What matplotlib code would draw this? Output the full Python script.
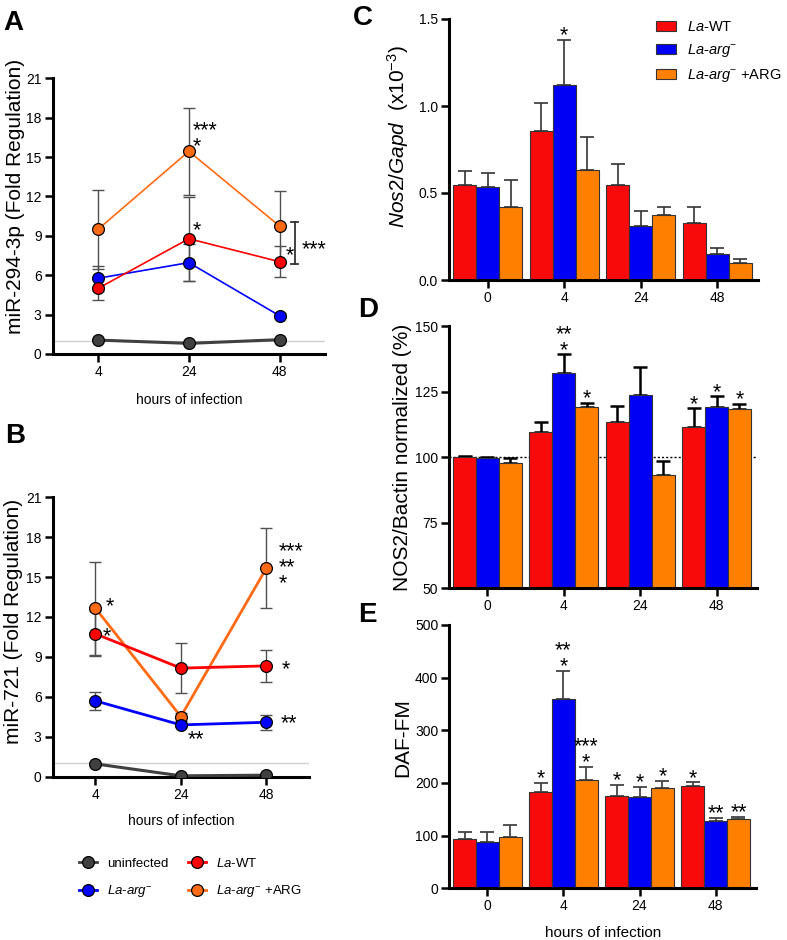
import matplotlib
matplotlib.use("Agg")
import matplotlib.pyplot as plt
from matplotlib.lines import Line2D
from matplotlib.patches import Patch
import numpy as np

plt.rcParams.update({
    'font.family': ['Liberation Sans', 'DejaVu Sans'],
    'mathtext.fontset': 'custom',
    'mathtext.rm': 'Liberation Sans',
    'mathtext.it': 'Liberation Sans:italic',
    'mathtext.bf': 'Liberation Sans:bold',
})

# ---- data: line panels (A, B) ----
hours_lines = ["4", "24", "48"]

A_uninf = [1.06, 0.81, 1.09]
A_wt = [5.0, 8.78, 7.03]
A_wt_err = [0.85, 3.2, 1.2]
A_arg = [5.77, 6.96, 2.91]
A_arg_err = [0.95, 1.4, 0.2]
A_argR = [9.5, 15.44, 9.74]
A_argR_err = [3.0, 3.3, 2.7]

B_uninf = [0.95, 0.05, 0.1]
B_wt = [10.73, 8.15, 8.32]
B_wt_err = [1.7, 1.9, 1.2]
B_arg = [5.69, 3.88, 4.08]
B_arg_err = [0.67, 0.15, 0.55]
B_argR = [12.66, 4.51, 15.66]
B_argR_err = [3.5, 0.3, 3.0]

# ---- data: bar panels (C, D, E) ----
hours_bars = ["0", "4", "24", "48"]

C_wt = [0.548, 0.858, 0.545, 0.329]
C_wt_err = [0.081, 0.162, 0.122, 0.088]
C_arg = [0.535, 1.122, 0.313, 0.149]
C_arg_err = [0.080, 0.258, 0.083, 0.033]
C_argR = [0.418, 0.634, 0.375, 0.099]
C_argR_err = [0.155, 0.190, 0.047, 0.023]
C_stars = [["", "", "", ""], ["", "*", "", ""], ["", "", "", ""]]

D_wt = [100.0, 109.5, 113.5, 111.6]
D_wt_err = [0.5, 4.0, 6.1, 7.0]
D_arg = [99.6, 132.0, 123.7, 119.0]
D_arg_err = [0.6, 7.3, 10.8, 4.3]
D_argR = [97.9, 119.2, 93.2, 118.2]
D_argR_err = [1.9, 1.6, 5.5, 2.1]
D_stars = [["", "", "", "*"], ["", "**\n*", "", "*"], ["", "*", "", "*"]]

E_wt = [93, 183, 176, 194]
E_wt_err = [14.6, 17.7, 20.8, 7.6]
E_arg = [88.6, 360, 173, 128]
E_arg_err = [17.7, 53, 20, 6.4]
E_argR = [98, 205, 190, 132]
E_argR_err = [21.6, 26, 14, 3.7]
E_stars = [["", "*", "*", "*"], ["", "**\n*", "*", "**"], ["", "***\n*", "*", "**"]]

col_gray = '#404040'
col_red = '#FF0000'
col_blue = '#0000FF'
col_orange_line = '#FF6A13'
bar_red = '#F90A0A'
bar_blue = '#0000F5'
bar_orange = '#FF8000'

STAR_FS = 15.5

fig = plt.figure(figsize=(7.87, 9.40), dpi=100)
W, H = 787.0, 940.0


def px_axes(l, t, r, b):
    return fig.add_axes([l / W, 1 - b / H, (r - l) / W, (b - t) / H])


def style(ax, fs):
    for s in ['top', 'right']:
        ax.spines[s].set_visible(False)
    for s in ['left', 'bottom']:
        ax.spines[s].set_linewidth(2.2)
    ax.tick_params(width=1.8, length=6, labelsize=fs, pad=2)


def star(ax, x, y, s, ha='left', dy=0):
    # y = centre of the lowest asterisk line
    ax.annotate(s, (x, y), xytext=(0, dy - 0.8 * STAR_FS), textcoords='offset points',
                ha=ha, va='bottom', fontsize=STAR_FS, linespacing=0.68)


def line_panel(ax, uninf, wt, wt_e, arg, arg_e, argR, argR_e, lw):
    x = np.arange(len(hours_lines))
    ax.axhline(1, color='#d0d0d0', lw=1, zorder=0)
    for y, e in [(argR, argR_e), (arg, arg_e), (wt, wt_e)]:
        ax.errorbar(x, y, yerr=e, fmt='none', ecolor='#505050', elinewidth=1,
                    capsize=4.5, capthick=1, zorder=2)
    ax.plot(x, uninf, '-o', color=col_gray, lw=2.2, ms=8.5, mec='black', mew=0.9, zorder=3)
    ax.plot(x, argR, '-o', color=col_orange_line, lw=lw, ms=8.5, mec='black', mew=0.9, zorder=4)
    ax.plot(x, arg, '-o', color=col_blue, lw=lw, ms=8.5, mec='black', mew=0.9, zorder=5)
    ax.plot(x, wt, '-o', color=col_red, lw=lw, ms=8.5, mec='black', mew=0.9, zorder=6)
    ax.set_xlim(-0.5, 2.5)
    ax.set_ylim(0, 21)
    ax.set_yticks(np.arange(0, 22, 3))
    ax.set_xticks(x)
    ax.set_xticklabels(hours_lines)
    style(ax, 10)


def bar_panel(ax, groups, ylim, yticks, ecol, elw, fs):
    x = np.arange(len(hours_bars))
    cols = [bar_red, bar_blue, bar_orange]
    for k, (vals, errs, stars) in enumerate(groups):
        xs = x + (k - 1) * 0.3
        ax.bar(xs, vals, width=0.3, color=cols[k], edgecolor='#333333', lw=0.8, zorder=2)
        ax.errorbar(xs, vals, yerr=[np.zeros(len(errs)), errs], fmt='none',
                    ecolor=ecol, elinewidth=elw, capsize=5, capthick=elw, zorder=1)
        for i, s in enumerate(stars):
            if s:
                star(ax, xs[i], vals[i] + errs[i], s, ha='center', dy=7.6)
    ax.set_xlim(-0.5, 3.53)
    ax.set_ylim(*ylim)
    ax.set_yticks(yticks)
    ax.set_xticks(x)
    ax.set_xticklabels(hours_bars)
    style(ax, fs)


# ---- Panel A ----
axA = px_axes(52.7, 78.3, 325, 354)
line_panel(axA, A_uninf, A_wt, A_wt_err, A_arg, A_arg_err, A_argR, A_argR_err, 1.2)
axA.set_ylabel("miR-294-3p (Fold Regulation)", fontsize=15)
axA.yaxis.set_label_coords(-0.1, 0.57)
axA.set_xlabel("hours of infection", fontsize=10, labelpad=10)
star(axA, 1.047, A_argR[1] + 0.9, "***\n*")
star(axA, 1.047, A_wt[1] + 1.1, "*")
star(axA, 2.07, A_wt[2] + 0.95, "*")
yb0, yb1 = A_wt[2] - 0.2, A_argR[2] + 0.35
axA.plot([2.165, 2.165], [yb0, yb1], color='#333333', lw=1.3, clip_on=False)
axA.plot([2.125, 2.205], [yb0, yb0], color='#333333', lw=1.3, clip_on=False)
axA.plot([2.125, 2.205], [yb1, yb1], color='#333333', lw=1.3, clip_on=False)
star(axA, 2.24, (yb0 + yb1) / 2, "***")

# ---- Panel B ----
axB = px_axes(52.7, 497.3, 309, 776.5)
line_panel(axB, B_uninf, B_wt, B_wt_err, B_arg, B_arg_err, B_argR, B_argR_err, 2.0)
axB.set_ylabel("miR-721 (Fold Regulation)", fontsize=15)
axB.yaxis.set_label_coords(-0.115, 0.555)
axB.set_xlabel("hours of infection", fontsize=10, labelpad=9)
star(axB, 0.12, B_argR[0] + 0.64, "*")
star(axB, 0.085, B_wt[0] + 0.27, "*")
star(axB, 2.15, B_argR[2] - 0.66, "***\n**\n*")
star(axB, 2.18, B_wt[2] + 0.25, "*")
star(axB, 2.17, B_arg[2] + 0.38, "**")
star(axB, 1.08, B_arg[1] - 0.58, "**")

# legend for A/B
hl = [Line2D([], [], color=c, lw=2, marker='o', ms=8.5, mec='black', mew=0.9)
      for c in [col_gray, col_blue, col_red, col_orange_line]]
fig.legend(hl, ["uninfected", r"$\mathit{La}$-$\mathit{arg}^{-}$",
                r"$\mathit{La}$-WT", r"$\mathit{La}$-$\mathit{arg}^{-}$ +ARG"],
           ncol=2, loc='upper left', bbox_to_anchor=(79 / W, 1 - 857 / H),
           frameon=False, fontsize=9.5, handlelength=1.4, handletextpad=0.7,
           columnspacing=1.5, labelspacing=1.0, borderpad=0, borderaxespad=0)

# ---- Panel C ----
axC = px_axes(449.3, 19, 758, 280)
bar_panel(axC, [(C_wt, C_wt_err, C_stars[0]), (C_arg, C_arg_err, C_stars[1]),
                (C_argR, C_argR_err, C_stars[2])],
          (0, 1.5), [0, 0.5, 1.0, 1.5], '#333333', 1.2, 10)
axC.set_yticklabels(["0.0", "0.5", "1.0", "1.5"])
axC.set_ylabel(r"$\mathit{Nos2/Gapd}$  (x10$^{\mathregular{-3}}$)", fontsize=15)
axC.yaxis.set_label_coords(-0.125, 0.55)
ph = [Patch(facecolor=c, edgecolor='#333333', lw=0.8) for c in [bar_red, bar_blue, bar_orange]]
fig.legend(ph, [r"$\mathit{La}$-WT", r"$\mathit{La}$-$\mathit{arg}^{-}$",
                r"$\mathit{La}$-$\mathit{arg}^{-}$ +ARG"],
           loc='upper left', bbox_to_anchor=(656 / W, 1 - 20 / H), frameon=False,
           fontsize=10.5, handlelength=1.4, handleheight=0.75, handletextpad=0.75,
           labelspacing=0.55, borderpad=0, borderaxespad=0)

# ---- Panel D ----
axD = px_axes(449.3, 326, 757, 588.3)
bar_panel(axD, [(D_wt, D_wt_err, D_stars[0]), (D_arg, D_arg_err, D_stars[1]),
                (D_argR, D_argR_err, D_stars[2])],
          (50, 150), [50, 75, 100, 125, 150], 'black', 1.8, 10)
axD.axhline(100, color='black', lw=1, ls=(0, (1.5, 1.5)), zorder=0)
axD.set_ylabel("NOS2/Bactin normalized (%)", fontsize=15)
axD.yaxis.set_label_coords(-0.12, 0.5)

# ---- Panel E ----
axE = px_axes(449.3, 625, 756, 888.3)
bar_panel(axE, [(E_wt, E_wt_err, E_stars[0]), (E_arg, E_arg_err, E_stars[1]),
                (E_argR, E_argR_err, E_stars[2])],
          (0, 500), [0, 100, 200, 300, 400, 500], '#444444', 1.3, 10)
axE.set_ylabel("DAF-FM", fontsize=15)
axE.yaxis.set_label_coords(-0.12, 0.574)
axE.set_xlabel("hours of infection", fontsize=11, labelpad=9)

# panel letters
for lab, (lx, ly) in {"A": (3, 30), "B": (5, 443), "C": (353, 25),
                      "D": (358, 317), "E": (358, 622)}.items():
    fig.text(lx / W, 1 - ly / H, lab, fontsize=20, fontweight='bold', va='baseline')

fig.savefig("out.png", dpi=100)
